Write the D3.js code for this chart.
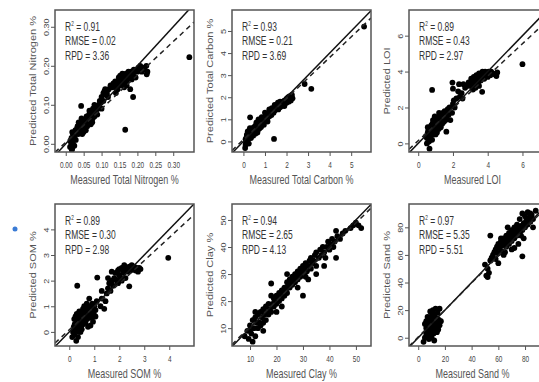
<!DOCTYPE html>
<html><head><meta charset="utf-8">
<script src="https://cdn.jsdelivr.net/npm/d3@7"></script>
<style>
body{margin:0;background:#fff;}
svg{display:block;}
</style></head>
<body>
<svg id="chart" width="539" height="382"></svg>
<script>
// ---------- DATA ----------
const xTitles = ["Measured Total Nitrogen %","Measured Total Carbon %","Measured LOI","Measured SOM %","Measured Clay %","Measured Sand %"];
const yTitles = ["Predicted Total Nitrogen %","Predicted Total Carbon %","Predicted LOI","Predicted SOM %","Predicted Clay %","Predicted Sand %"];
const r2 = ["0.91","0.93","0.89","0.89","0.94","0.97"];
const rmse = ["0.02","0.21","0.43","0.30","2.65","5.35"];
const rpd = ["3.36","3.69","2.97","2.98","4.13","5.51"];
// regression (dashed) line: intercept, slope
const regIntercept = [0.004, 0.08, 0.15, 0.08, 0.9, 0.5];
const regSlope = [0.86, 0.93, 0.9, 0.9, 0.96, 0.98];
const tickVals = [
  [0,0.05,0.10,0.15,0.20,0.25,0.30],
  [0,1,2,3,4,5],
  [0,2,4,6],
  [0,1,2,3,4],
  [10,20,30,40,50],
  [0,20,40,60,80]
];
const yTickVals = [
  [0,0.10,0.20,0.30],
  [0,1,2,3,4,5],
  [0,2,4,6],
  [0,1,2,3,4],
  [10,20,30,40,50],
  [0,20,40,60,80]
];
const tickFormats = [".2f","d","d","d","d","d"];
const xDomains = [[-0.03,0.358],[-0.53,5.92],[-0.53,7.47],[-0.57,4.99],[3.2,55.7],[-6.9,97.2]];
const yDomains = [[-0.021,0.343],[-0.48,5.95],[-0.48,7.43],[-0.55,4.99],[3.4,55.9],[-6.0,96.9]];

const nitrogen = [[0.012,-0.008],[0.015,0.002],[0.018,-0.012],[0.02,0.005],[0.022,0.012],[0.016,0.015],[0.025,0.02],[0.02,0.025],[0.028,0.01],[0.03,0.03],[0.013,0.008],[0.024,-0.005],[0.027,0.035],[0.032,0.04],[0.018,0.03],[0.035,0.025],[0.033,0.045],[0.038,0.05],[0.04,0.035],[0.036,0.055],[0.042,0.04],[0.045,0.055],[0.048,0.048],[0.05,0.06],[0.044,0.065],[0.052,0.042],[0.055,0.055],[0.058,0.07],[0.06,0.05],[0.062,0.065],[0.065,0.075],[0.063,0.06],[0.068,0.058],[0.07,0.07],[0.072,0.08],[0.066,0.085],[0.075,0.065],[0.078,0.075],[0.08,0.07],[0.082,0.085],[0.085,0.08],[0.088,0.075],[0.09,0.09],[0.056,0.035],[0.05,0.03],[0.046,0.025],[0.06,0.045],[0.07,0.05],[0.074,0.055],[0.076,0.09],[0.08,0.1],[0.086,0.095],[0.092,0.1],[0.095,0.11],[0.098,0.105],[0.1,0.12],[0.105,0.13],[0.108,0.135],[0.11,0.14],[0.113,0.125],[0.115,0.13],[0.12,0.14],[0.118,0.12],[0.1,0.09],[0.105,0.11],[0.125,0.15],[0.13,0.145],[0.133,0.155],[0.135,0.15],[0.138,0.16],[0.14,0.145],[0.142,0.155],[0.145,0.16],[0.148,0.17],[0.15,0.165],[0.152,0.175],[0.155,0.17],[0.158,0.18],[0.16,0.165],[0.162,0.175],[0.165,0.17],[0.168,0.18],[0.17,0.16],[0.172,0.175],[0.175,0.185],[0.178,0.17],[0.18,0.18],[0.182,0.185],[0.185,0.175],[0.188,0.18],[0.19,0.19],[0.192,0.185],[0.195,0.17],[0.198,0.19],[0.2,0.185],[0.203,0.195],[0.205,0.19],[0.208,0.2],[0.21,0.19],[0.212,0.185],[0.215,0.195],[0.22,0.19],[0.225,0.2],[0.228,0.185],[0.226,0.178],[0.16,0.15],[0.163,0.145],[0.15,0.15],[0.145,0.14],[0.14,0.13],[0.17,0.15],[0.155,0.155],[0.158,0.16],[0.165,0.16],[0.184,0.165],[0.166,0.036],[0.188,0.12],[0.043,0.097],[0.345,0.222],[0.18,0.14],[0.017,-0.016]];

const carbon = [[0.08,-0.3],[0.1,-0.15],[0.12,0.0],[0.1,0.1],[0.15,0.2],[0.13,-0.05],[0.18,0.05],[0.2,0.25],[0.22,0.1],[0.25,0.35],[0.16,0.3],[0.28,0.2],[0.3,0.4],[0.32,0.3],[0.35,0.5],[0.38,0.35],[0.4,0.45],[0.42,0.6],[0.45,0.5],[0.48,0.4],[0.5,0.65],[0.52,0.55],[0.55,0.7],[0.58,0.5],[0.6,0.6],[0.62,0.75],[0.65,0.65],[0.68,0.8],[0.7,0.55],[0.72,0.7],[0.75,0.85],[0.78,0.75],[0.8,0.9],[0.82,0.65],[0.85,0.8],[0.88,1.0],[0.9,0.85],[0.92,0.95],[0.95,1.05],[0.98,0.9],[1.0,1.1],[1.02,0.95],[1.05,1.0],[1.08,1.2],[1.1,1.05],[1.12,0.9],[1.15,1.1],[1.18,1.25],[1.2,1.45],[1.22,1.15],[1.25,1.3],[1.28,1.4],[1.3,1.2],[1.32,1.5],[1.35,1.35],[1.38,1.45],[1.4,1.3],[1.42,1.5],[1.45,1.4],[1.48,1.55],[1.5,1.45],[1.52,1.6],[1.55,1.5],[1.58,1.65],[1.6,1.55],[1.62,1.45],[1.65,1.6],[1.68,1.7],[1.7,1.55],[1.72,1.65],[1.75,1.75],[1.78,1.6],[1.8,1.7],[1.82,1.8],[1.85,1.65],[1.88,1.75],[1.9,1.85],[1.92,1.7],[1.95,1.8],[1.98,1.9],[2.0,1.75],[2.02,1.95],[2.05,1.85],[2.08,2.0],[2.1,1.8],[2.12,1.9],[2.15,2.05],[2.18,1.95],[2.2,1.85],[2.25,2.1],[2.22,2.0],[2.28,1.95],[0.35,0.15],[0.45,0.25],[0.55,0.35],[0.6,0.85],[0.7,1.0],[0.75,0.6],[0.85,1.1],[0.95,0.75],[1.0,1.3],[0.65,0.4],[0.25,-0.1],[0.2,0.45],[0.3,0.6],[1.6,1.75],[1.7,1.8],[1.9,1.6],[1.45,1.65],[0.31,1.09],[1.42,0.11],[2.84,2.6],[3.15,2.38],[5.6,5.2]];

const loi = [[0.5,0.3],[0.55,0.6],[0.6,0.8],[0.62,0.1],[0.65,-0.3],[0.68,0.5],[0.7,0.9],[0.72,0.4],[0.75,1.0],[0.78,0.7],[0.8,0.2],[0.82,1.1],[0.85,0.8],[0.88,0.5],[0.9,1.0],[0.92,1.2],[0.95,0.7],[0.98,1.1],[1.0,0.9],[1.02,1.3],[1.05,1.0],[1.08,0.6],[1.1,1.2],[1.12,1.4],[1.15,1.1],[1.18,0.8],[1.2,1.3],[1.22,1.5],[1.25,1.2],[1.28,1.0],[1.3,1.4],[1.32,1.6],[1.35,1.3],[1.38,1.1],[1.4,1.5],[1.42,1.7],[1.45,1.4],[1.48,1.2],[1.5,1.6],[1.52,1.8],[1.55,1.5],[1.58,1.3],[1.6,1.7],[1.65,1.5],[1.7,1.9],[1.75,1.6],[1.8,2.0],[0.55,0.9],[0.6,0.5],[0.7,0.2],[0.85,1.3],[0.95,1.5],[1.0,0.5],[1.2,1.7],[1.3,0.9],[0.5,0.0],[0.58,0.7],[0.45,0.4],[1.62,0.65],[0.8,2.98],[1.97,3.39],[1.85,1.3],[2.0,2.2],[1.95,1.7],[2.1,2.0],[2.2,2.5],[2.3,2.9],[2.4,2.6],[2.5,2.8],[2.6,3.3],[2.7,3.1],[2.55,2.5],[2.35,3.3],[2.8,3.2],[2.9,3.4],[3.0,3.2],[3.05,3.6],[3.1,3.4],[3.15,3.0],[3.2,3.7],[3.25,3.5],[3.3,3.3],[3.35,3.8],[3.4,3.6],[3.45,3.4],[3.5,3.9],[3.55,3.7],[3.6,3.5],[3.65,3.9],[3.7,4.0],[3.75,3.8],[3.8,3.6],[3.85,4.0],[3.9,3.8],[3.95,3.9],[4.0,3.7],[4.05,4.0],[4.1,3.9],[4.15,3.8],[4.2,4.0],[4.3,3.9],[4.4,3.85],[4.5,3.75],[4.55,3.95],[3.68,2.87],[3.3,3.1],[3.5,3.2],[6.0,4.41],[2.05,2.4],[2.0,3.05]];

const som = [[0.15,0.0],[0.18,0.2],[0.2,-0.1],[0.22,0.3],[0.25,0.1],[0.28,-0.35],[0.3,0.4],[0.32,0.2],[0.35,0.5],[0.38,0.0],[0.4,0.3],[0.42,0.6],[0.45,0.4],[0.48,0.2],[0.5,0.7],[0.52,0.5],[0.55,0.3],[0.58,0.65],[0.6,0.8],[0.62,0.45],[0.65,0.6],[0.68,0.9],[0.7,0.7],[0.72,0.5],[0.75,0.85],[0.78,1.0],[0.8,0.65],[0.82,0.8],[0.85,0.95],[0.88,0.55],[0.9,0.75],[0.92,1.1],[0.95,0.9],[0.98,0.7],[1.0,1.0],[1.05,0.85],[1.1,1.2],[0.2,0.5],[0.3,0.7],[0.45,0.0],[0.55,0.9],[0.65,0.35],[0.75,0.2],[0.85,0.25],[0.25,0.6],[0.4,0.8],[0.5,0.1],[0.6,1.0],[0.7,1.1],[0.8,1.3],[0.95,0.4],[1.05,0.6],[0.12,-0.2],[0.35,-0.2],[0.32,1.8],[1.12,2.12],[1.3,1.6],[1.3,1.3],[1.25,1.0],[1.4,0.9],[1.5,1.5],[1.55,1.7],[1.6,1.9],[1.65,1.6],[1.7,2.0],[1.75,1.8],[1.8,2.1],[1.85,2.3],[1.9,2.0],[1.95,2.4],[2.0,2.2],[2.05,2.1],[2.1,2.5],[2.15,2.3],[2.2,2.4],[2.25,2.1],[2.3,2.5],[2.35,2.35],[2.4,2.55],[2.45,2.4],[2.5,2.6],[2.55,2.45],[2.6,2.55],[2.65,2.4],[2.7,2.5],[2.75,2.35],[2.8,2.5],[2.85,2.45],[2.0,2.45],[2.1,2.0],[1.95,1.9],[2.2,2.6],[2.4,1.78],[3.96,2.89],[1.55,2.1],[1.45,1.2],[1.7,2.35]];

const clay = [[8,7],[9,9],[9.5,6],[10,11],[10.5,8],[11,13],[11,5],[11.5,10],[12,14],[12,7],[12.5,12],[13,10],[13,15],[13.5,12],[14,16],[14,11],[14.5,14],[15,17],[15,12],[15.5,15],[16,18],[16,13],[16.5,16],[17,15],[17,19],[17.5,17],[18,26.5],[18,16],[18.5,19],[19,18],[19,21],[19.5,20],[20,19],[20,22],[20.5,21],[21,20],[21,23],[21.5,22],[22,21],[22,24],[22.5,23],[23,25],[23,22],[23.5,24],[24,27],[24,23],[24.5,26],[25,25],[25,28],[25.5,27],[26,26],[26,29],[26.5,28],[27,27],[27,30],[27.5,29],[28,28],[28,31],[28.5,30],[29,29],[29,32],[29.5,31],[30,30],[30,22],[30,33],[30.5,32],[31,29],[31,34],[31.5,31],[32,33],[32,28],[32.5,35],[33,32],[33,36],[33.5,34],[34,35],[34.5,37],[35,33],[35,38],[36,36],[36.5,39],[37,37],[37.5,40],[38,38],[38.5,36],[39,40],[39.5,42],[40,39],[40.5,41],[41,43],[41.5,40],[42,42],[42.5,36],[42.5,46],[43,44],[44,43],[45,45],[46,46],[48,47],[49,48],[50,49],[51,48],[52,47],[10,9],[12,16],[15,9],[18,22],[20,16],[22,18],[24,30],[28,25],[35,30],[38,33]];

const sand = [[4,-3],[5,0],[5,10],[6,3],[6,12],[7,5],[7,8],[7.5,1],[8,10],[8,4],[8.5,13],[9,7],[9,15],[9.5,2],[10,11],[10,5],[10.5,18],[11,8],[11,13],[11.5,3],[12,10],[12,16],[12.5,6],[13,12],[13,21],[13.5,8],[14,14],[14,10],[14.5,18],[15,11],[15,6],[15.5,13],[16,9],[16,21],[17,12],[8,-1],[10,0],[6,7],[12,-2],[11,20],[14,4],[9,19],[7,15],[50,53],[51,45],[52,44],[52,50],[53,47],[54,74],[54,56],[55,58],[56,60],[57,62],[58,64],[58,57],[59,66],[60,61],[60,68],[61,65],[62,63],[62,70],[63,67],[64,72],[64,60],[65,69],[66,66],[66,74],[67,71],[68,76],[68,68],[69,73],[70,70],[70,78],[71,75],[72,72],[72,80],[73,77],[74,74],[74,82],[75,79],[76,76],[76,86],[77,81],[78,78],[78,59],[78,90],[79,83],[80,80],[80,88],[81,85],[82,82],[82,91],[83,87],[84,84],[85,89],[86,86],[88,92],[75,68],[70,64],[65,62],[72,65],[60,54],[67,80],[62,72],[77,74],[79,72],[84,90],[86,80]];

const allPoints = [nitrogen, carbon, loi, som, clay, sand];

// ---------- LAYOUT ----------
const colLeft = [55, 232, 409];
const rowTop = [10, 204];
const boxW = 139, boxH = 142;
const font = "'Liberation Sans',Arial,sans-serif";
const squashX = 0.72;   // the source figure is horizontally compressed

const svg = d3.select("#chart");

allPoints.forEach((pts, i) => {
  const col = i % 3, row = Math.floor(i / 3);
  const L = colLeft[col], T = rowTop[row];
  const x = d3.scaleLinear().domain(xDomains[i]).range([L, L + boxW]);
  const y = d3.scaleLinear().domain(yDomains[i]).range([T + boxH, T]);
  const g = svg.append("g");
  const clipId = "clip" + i;
  svg.append("clipPath").attr("id", clipId).append("rect")
    .attr("x", L).attr("y", T).attr("width", boxW).attr("height", boxH);

  // axes
  const fmt = d3.format(tickFormats[i]);
  const xAxis = d3.axisBottom(x).tickValues(tickVals[i]).tickFormat(fmt).tickSize(4).tickPadding(3);
  const ax = g.append("g").attr("transform", `translate(0,${T + boxH})`).call(xAxis);
  const yAxis = d3.axisLeft(y).tickValues(yTickVals[i]).tickFormat(fmt).tickSize(4).tickPadding(4);
  const ay = g.append("g").attr("transform", `translate(${L},0)`).call(yAxis);
  [ax, ay].forEach(a => {
    a.select(".domain").remove();
    a.selectAll(".tick line").attr("stroke", "#555").attr("stroke-width", 1);
    a.selectAll(".tick text").attr("fill", "#444").style("font-family", font).style("font-size", "9px");
  });
  ax.selectAll(".tick text").attr("dy", null).attr("y", 16).attr("transform", `scale(${squashX},1)`);
  ay.selectAll(".tick text")
    .attr("x", null).attr("dy", null).attr("y", 0)
    .attr("text-anchor", "middle")
    .attr("transform", "translate(-6,0) scale(0.8,1) rotate(-90)");

  // points
  g.append("g").attr("clip-path", `url(#${clipId})`).selectAll("circle").data(pts).join("circle")
    .attr("cx", d => x(d[0])).attr("cy", d => y(d[1])).attr("r", 2.9).attr("fill", "#000");

  // 1:1 line and regression line
  const xd = xDomains[i];
  const lines = g.append("g").attr("clip-path", `url(#${clipId})`);
  const line = d3.line().x(d => x(d[0])).y(d => y(d[1]));
  lines.append("path").datum([[xd[0], xd[0]], [xd[1], xd[1]]]).attr("d", line)
    .attr("stroke", "#111").attr("stroke-width", 1.5).attr("fill", "none");
  lines.append("path").datum([[xd[0], regIntercept[i] + regSlope[i] * xd[0]], [xd[1], regIntercept[i] + regSlope[i] * xd[1]]]).attr("d", line)
    .attr("stroke", "#222").attr("stroke-width", 1.5).attr("stroke-dasharray", "5,4").attr("fill", "none");

  // box
  g.append("rect").attr("x", L).attr("y", T).attr("width", boxW).attr("height", boxH)
    .attr("fill", "none").attr("stroke", "#555").attr("stroke-width", 1.5);

  // stats text
  const st = g.append("g").attr("transform", `translate(${L + 10},${T}) scale(0.68,1)`)
    .style("font-family", font).style("font-size", "12.5px").attr("fill", "#333");
  const r2t = st.append("text").attr("x", 0).attr("y", 21);
  r2t.append("tspan").text("R");
  r2t.append("tspan").attr("dy", -5).style("font-size", "7px").text("2");
  r2t.append("tspan").attr("dy", 5).text(" = " + r2[i]);
  st.append("text").attr("x", 0).attr("y", 35.5).text("RMSE = " + rmse[i]);
  st.append("text").attr("x", 0).attr("y", 50).text("RPD = " + rpd[i]);

  // axis titles
  g.append("text").attr("transform", `translate(${L + boxW / 2 + (col === 2 ? -6 : 0)},${T + boxH + 32}) scale(${squashX + 0.03},1)`)
    .attr("text-anchor", "middle").attr("fill", "#555")
    .style("font-family", font).style("font-size", "12px").text(xTitles[i]);
  g.append("text").attr("transform", `translate(${L - 19},${T + boxH / 2}) scale(0.8,1) rotate(-90)`)
    .attr("text-anchor", "middle").attr("fill", "#555")
    .style("font-family", font).style("font-size", "11px").text(yTitles[i]);
});

// stray blue bullet from the source slide
svg.append("circle").attr("cx", 15).attr("cy", 229).attr("r", 2.5).attr("fill", "#3a7bd5");
</script>
</body></html>
